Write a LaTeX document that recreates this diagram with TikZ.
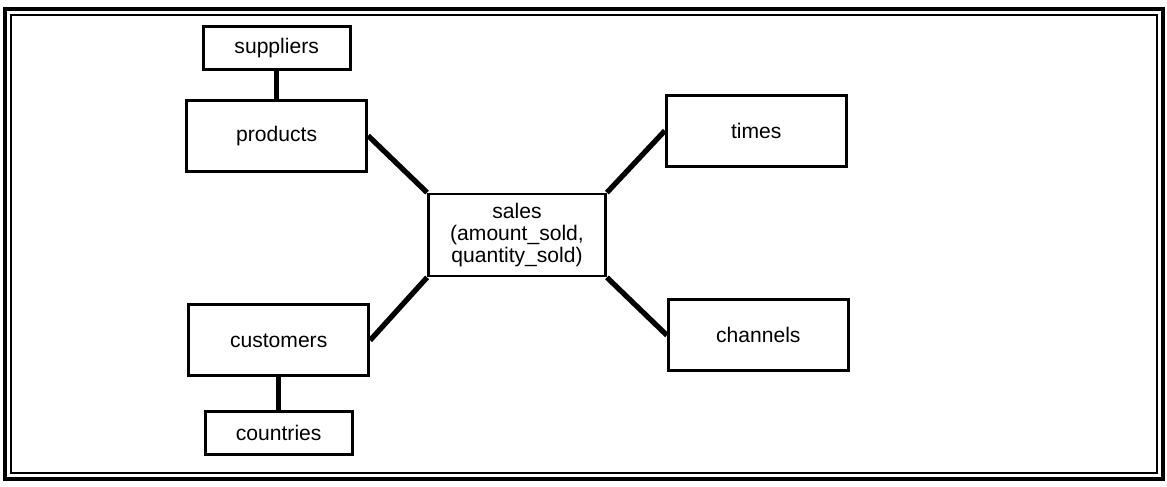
\documentclass[tikz,border=0pt]{standalone}
\usepackage{fontspec}
\setmainfont{Liberation Sans}
\usepackage{tikz}
\usetikzlibrary{positioning}
\tikzset{
  tbl/.style={draw,line width=1.6pt,align=center,inner sep=2pt,minimum width=3.6cm,minimum height=1.42cm,font=\fontsize{12}{12.5}\selectfont},
  subtbl/.style={tbl,minimum width=2.94cm,minimum height=0.86cm},
  fact/.style={tbl,minimum width=3.54cm,minimum height=1.64cm},
  link/.style={line width=3pt},
  rimout/.style={line width=2.3pt},
  rimin/.style={line width=1.1pt},
}

\begin{document}
\begin{tikzpicture}
\useasboundingbox (0,0) rectangle (23.34,9.72);
% double border
\draw[rimout] (0.10,0.14) rectangle (23.26,9.54);
\draw[rimin] (0.22,0.26) rectangle (23.14,9.42);

% fact table
\node[fact] (sales) at (10.34,5.02) {sales\\(amount\_sold,\\quantity\_sold)};

% dimensions
\node[tbl, above left=4mm and 11.8mm of sales] (products) {products};
\node[subtbl, above=5.6mm of products] (suppliers) {suppliers};
\node[tbl, above right=5mm and 11.6mm of sales] (times) {times};
\node[tbl, below right=4.2mm and 12mm of sales] (channels) {channels};
\node[tbl, below left=5.2mm and 11.4mm of sales] (customers) {customers};
\node[subtbl, below=6.6mm of customers] (countries) {countries};

% joins
\draw[link] (products.east) -- (sales.north west);
\draw[link] (times.west) -- (sales.north east);
\draw[link] (channels.west) -- (sales.south east);
\draw[link] (customers.east) -- (sales.south west);
\draw[link] (suppliers) -- (products);
\draw[link] (customers) -- (countries);

\end{tikzpicture}
\end{document}
